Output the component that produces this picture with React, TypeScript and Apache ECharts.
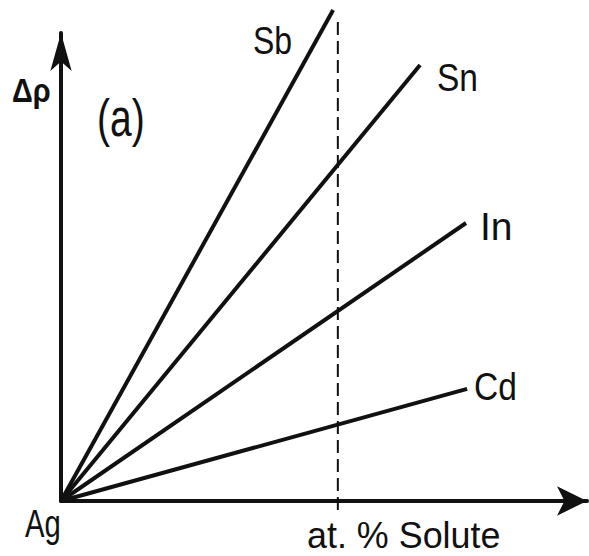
import React, { useEffect, useRef } from "react";
import * as echarts from "echarts";

// Solute lines from pure Ag (origin) — end points in (at.% solute, Δρ) arbitrary units
const seriesNames = ["Sb", "Sn", "In", "Cd"];
const endX = [0.983, 1.297, 1.463, 1.467];
const endY = [1.752, 1.556, 0.992, 0.4];
const markerX = 1; // dashed reference composition
const markerY = [-0.032, 1.724];

const FONT = "'Liberation Sans', Arial, sans-serif";

export default function App() {
  const ref = useRef<HTMLDivElement>(null);
  useEffect(() => {
    if (!ref.current) return;
    const chart = echarts.init(ref.current, null, { renderer: "svg" });
    const lineSeries = seriesNames.map((name, i) => ({
      name,
      type: "line",
      data: [
        [0, 0],
        [endX[i], endY[i]],
      ],
      symbol: "none",
      clip: false,
      lineStyle: { color: "#111", width: 4 },
    }));
    const txt = (text: string, x: number, y: number, size: number, sx: number, bold = false) => ({
      type: "text",
      x,
      y,
      scaleX: sx,
      style: {
        text,
        fill: "#111",
        font: `${bold ? "bold " : ""}${size}px ${FONT}`,
        lineHeight: size,
        align: "left",
        verticalAlign: "top",
      },
    });
    chart.setOption({
      animation: false,
      backgroundColor: "#fff",
      grid: { left: 61, right: 2, top: 33, bottom: 55 },
      xAxis: {
        type: "value",
        min: 0,
        max: 1.9,
        axisLine: {
          show: true,
          symbol: ["none", "arrow"],
          symbolSize: [22, 30],
          lineStyle: { color: "#111", width: 4 },
        },
        axisTick: { show: false },
        axisLabel: { show: false },
        splitLine: { show: false },
      },
      yAxis: {
        type: "value",
        min: 0,
        max: 1.67,
        axisLine: {
          show: true,
          symbol: ["none", "arrow"],
          symbolSize: [16, 38],
          lineStyle: { color: "#111", width: 4 },
        },
        axisTick: { show: false },
        axisLabel: { show: false },
        splitLine: { show: false },
      },
      series: [
        ...lineSeries,
        {
          name: "marker",
          type: "line",
          data: [
            [markerX, markerY[0]],
            [markerX, markerY[1]],
          ],
          symbol: "none",
          clip: false,
          lineStyle: { color: "#111", width: 2, type: [13, 6] },
        },
      ],
      graphic: [
        txt("Sb", 253, 21, 39, 0.82),
        txt("Sn", 437, 58, 39, 0.86),
        txt("In", 480, 207, 39, 1.0),
        txt("Cd", 474, 367, 39, 0.86),
        txt("Ag", 25, 504, 39, 0.75),
        txt("at. % Solute", 307, 517, 37, 0.97),
        txt("Δρ", 12, 73, 34, 0.85, true),
        txt("(a)", 97, 92, 52, 0.75),
      ],
    });
    return () => chart.dispose();
  }, []);
  return (
    <div
      ref={ref}
      style={{ position: "fixed", left: 0, top: 0, width: 589, height: 556, background: "#fff" }}
    />
  );
}
